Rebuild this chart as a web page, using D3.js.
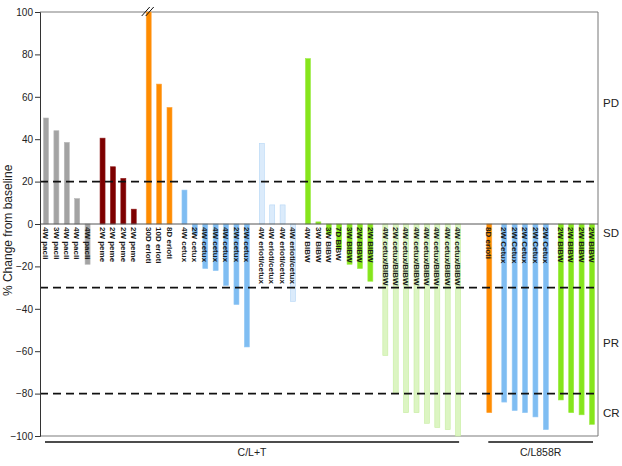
<!DOCTYPE html>
<html>
<head>
<meta charset="utf-8">
<script src="https://cdn.jsdelivr.net/npm/d3@7"></script>
<style>
  body { margin: 0; background: #fff; }
  text { font-family: "Liberation Sans", Arial, sans-serif; }
</style>
</head>
<body>
<svg id="chart" width="622" height="466"></svg>
<script>
// bar labels, one per patient
var labels = [
  "4W pacli", "3W pacli", "4W pacli", "4W pacli", "4W pacli",
  "2W peme", "2W peme", "2W peme", "2W peme",
  "30D erloti", "10D erloti", "8D erloti",
  "4W cetux", "2W cetux", "4W cetux", "4W cetux", "4W cetux", "2W cetux", "2W cetux",
  "4W erloti/cetux", "4W erloti/cetux", "4W erloti/cetux", "4W erloti/cetux",
  "4W BIBW", "3W BIBW", "3W BIBW", "7D BIBW", "3W BIBW", "2W BIBW", "2W BIBW",
  "4W cetux/BIBW", "2W cetux/BIBW", "4W cetux/BIBW", "4W cetux/BIBW",
  "4W cetux/BIBW", "4W cetux/BIBW", "4W cetux/BIBW", "4W cetux/BIBW",
  "8D erloti",
  "2W Cetux", "2W Cetux", "2W Cetux", "2W Cetux", "2W Cetux",
  "2W BIBW", "2W BIBW", "2W BIBW", "2W BIBW"
];

// % change from baseline
var values = [
  50, 44, 38.5, 12, -19,
  40.5, 27, 21.5, 7,
  100, 66, 55,
  16, -5, -21, -22, -29, -38, -58,
  38, 9, 9, -36.5,
  78, 1, -5, -12, -19, -21, -27,
  -62, -80, -89, -89, -94, -96, -97, -100,
  -89,
  -84, -88, -89, -91, -97,
  -83, -89, -90, -94.5
];

// treatment of each bar
var drugs = [
  "pacli", "pacli", "pacli", "pacli", "pacli",
  "peme", "peme", "peme", "peme",
  "erloti", "erloti", "erloti",
  "cetux", "cetux", "cetux", "cetux", "cetux", "cetux", "cetux",
  "erloti/cetux", "erloti/cetux", "erloti/cetux", "erloti/cetux",
  "BIBW", "BIBW", "BIBW", "BIBW", "BIBW", "BIBW", "BIBW",
  "cetux/BIBW", "cetux/BIBW", "cetux/BIBW", "cetux/BIBW",
  "cetux/BIBW", "cetux/BIBW", "cetux/BIBW", "cetux/BIBW",
  "erloti",
  "cetux", "cetux", "cetux", "cetux", "cetux",
  "BIBW", "BIBW", "BIBW", "BIBW"
];

// mouse model of each bar
var cohorts = [];
for (var i = 0; i < 38; i++) cohorts.push("C/L+T");
for (var i = 0; i < 10; i++) cohorts.push("C/L858R");
var cohortNames = ["C/L+T", "C/L858R"];

var drugNames = ["pacli", "peme", "erloti", "cetux", "erloti/cetux", "BIBW", "cetux/BIBW"];
var drugColors = ["#a3a3a3", "#7d0000", "#ff8c00", "#7fbdf2", "#dbebfb", "#86e51c", "#dcf5c2"];
var drugStrokes = ["#b8b8b8", "#8f1a1a", "#ffa640", "#95c9f5", "#b5d6f5", "#9bec44", "#c6eda0"];

var cutoffs = [20, -30, -80];
var responseNames = ["PD", "SD", "PR", "CR"];
var responseValues = [57, -4, -56, -89];

var margin = {top: 12, right: 24, bottom: 30, left: 40},
    width = 622 - margin.left - margin.right,
    height = 466 - margin.top - margin.bottom;

var svg = d3.select("#chart")
  .append("g")
    .attr("transform", "translate(" + margin.left + "," + margin.top + ")");

// slot position of each bar: small gap between drugs, big gap between cohorts
var data = [];
var pos = 0;
labels.forEach(function(l, i) {
  if (i > 0) {
    pos += 1;
    if (cohorts[i] != cohorts[i - 1]) pos += 2;
    else if (drugs[i] != drugs[i - 1]) pos += 0.44;
  }
  data.push({label: l, value: values[i], drug: drugs[i], cohort: cohorts[i], pos: pos});
});

var x = d3.scaleLinear()
  .domain([0, pos])
  .range([6, 552]);
var barW = 5;

var y = d3.scaleLinear()
  .domain([-100, 100])
  .range([height, 0]);

var color = d3.scaleOrdinal().domain(drugNames).range(drugColors);
var stroke = d3.scaleOrdinal().domain(drugNames).range(drugStrokes);

// frame: light top/bottom, dark right
svg.append("line")
  .attr("x1", 0).attr("x2", width).attr("y1", y(100)).attr("y2", y(100))
  .attr("stroke", "#bdbdbd").attr("stroke-width", 2);
svg.append("line")
  .attr("x1", 0).attr("x2", width).attr("y1", y(-100)).attr("y2", y(-100))
  .attr("stroke", "#bdbdbd").attr("stroke-width", 2);
svg.append("line")
  .attr("x1", width).attr("x2", width).attr("y1", y(100)).attr("y2", y(-100))
  .attr("stroke", "#777").attr("stroke-width", 1);

// bars
svg.append("g")
  .selectAll("rect")
  .data(data)
  .enter().append("rect")
    .attr("x", function(d) { return x(d.pos) - barW / 2; })
    .attr("y", function(d) { return y(Math.max(0, d.value)); })
    .attr("width", barW)
    .attr("height", function(d) { return Math.abs(y(d.value) - y(0)); })
    .attr("fill", function(d) { return color(d.drug); })
    .attr("stroke", function(d) { return stroke(d.drug); })
    .attr("stroke-width", 0.6);

// zero line
svg.append("line")
  .attr("x1", 0).attr("x2", width).attr("y1", y(0)).attr("y2", y(0))
  .attr("stroke", "#555").attr("stroke-width", 1);

// response cutoffs
svg.append("g")
  .selectAll("line")
  .data(cutoffs)
  .enter().append("line")
    .attr("x1", 0).attr("x2", width)
    .attr("y1", function(d) { return y(d); })
    .attr("y2", function(d) { return y(d); })
    .attr("stroke", "#111")
    .attr("stroke-width", 1.8)
    .attr("stroke-dasharray", "8,5");

// bar labels
svg.append("g")
  .selectAll("text")
  .data(data)
  .enter().append("text")
    .attr("transform", function(d) { return "translate(" + x(d.pos) + "," + (y(0) + 3) + ") rotate(90)"; })
    .attr("dy", "0.35em")
    .attr("font-size", "8px")
    .attr("font-weight", "bold")
    .attr("fill", "#1a1a1a")
    .text(function(d) { return d.label; });

// axis break on the clipped bar
var broken = data.filter(function(d) { return d.value >= 100; });
broken.forEach(function(d) {
  [-2, 2].forEach(function(o) {
    svg.append("line")
      .attr("x1", x(d.pos) - 5 + o).attr("y1", y(100) + 4)
      .attr("x2", x(d.pos) + 3 + o).attr("y2", y(100) - 5)
      .attr("stroke", "#111").attr("stroke-width", 1);
  });
});

// y axis
var yAxis = svg.append("g")
  .call(d3.axisLeft(y).tickValues(d3.range(-100, 101, 20)).tickSize(5).tickPadding(2));
yAxis.select(".domain").attr("stroke", "#333");
yAxis.selectAll(".tick line").attr("stroke", "#333");
yAxis.selectAll("text")
  .attr("font-size", "10px")
  .attr("font-family", "Liberation Sans, Arial, sans-serif")
  .attr("fill", "#222");

svg.append("text")
  .attr("transform", "translate(" + (-28) + "," + y(-3) + ") rotate(-90)")
  .attr("text-anchor", "middle")
  .attr("font-size", "12px")
  .attr("fill", "#222")
  .text("% Change from baseline");

// response labels on the right
svg.append("g")
  .selectAll("text")
  .data(responseNames)
  .enter().append("text")
    .attr("x", width + 5)
    .attr("y", function(d, i) { return y(responseValues[i]); })
    .attr("dy", "0.35em")
    .attr("font-size", "11.5px")
    .attr("fill", "#222")
    .text(function(d) { return d; });

// cohort brackets under the plot
cohortNames.forEach(function(c) {
  var bars = data.filter(function(d) { return d.cohort == c; });
  var x0 = x(bars[0].pos) - 1, x1 = x(bars[bars.length - 1].pos) + 1;
  svg.append("line")
    .attr("x1", x0).attr("x2", x1)
    .attr("y1", height + 6).attr("y2", height + 6)
    .attr("stroke", "#111").attr("stroke-width", 1.3);
  svg.append("text")
    .attr("x", (x0 + x1) / 2)
    .attr("y", height + 20)
    .attr("text-anchor", "middle")
    .attr("font-size", "10.5px")
    .attr("fill", "#222")
    .text(c);
});
</script>
</body>
</html>
